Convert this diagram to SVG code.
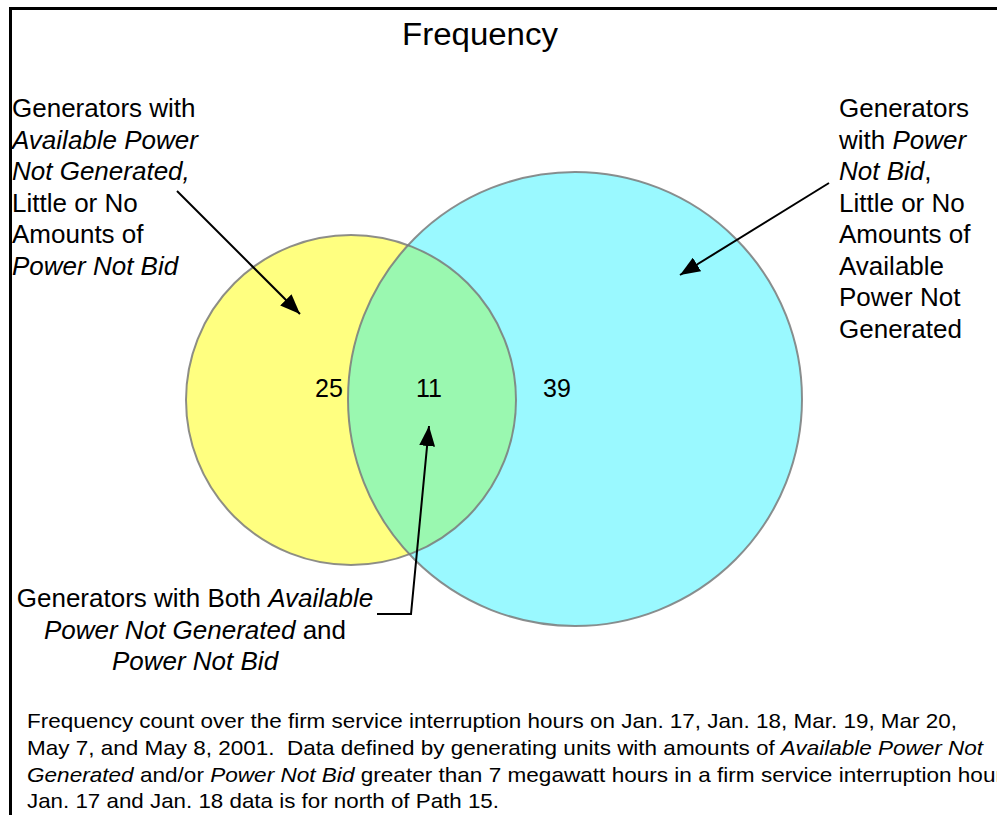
<svg xmlns="http://www.w3.org/2000/svg" width="997" height="815" viewBox="0 0 997 815">
  <style>
    text { font-family: "Liberation Sans", Arial, sans-serif; fill: #000; }
    .lbl { font-size: 26px; }
    .num { font-size: 25px; text-anchor: middle; }
    .note { font-size: 21px; }
    .it { font-style: italic; }
    .conn { fill: none; stroke: #000; stroke-width: 2; }
    .ring { fill: none; stroke: #7a7a7a; stroke-width: 2; }
  </style>
  <defs>
    <marker id="head" viewBox="0 0 20 16" refX="20" refY="8" markerWidth="20" markerHeight="16" markerUnits="userSpaceOnUse" orient="auto">
      <path d="M0,0 L20,8 L0,16 z" fill="#000"/>
    </marker>
    <clipPath id="cyanClip">
      <circle cx="575" cy="399" r="227"/>
    </clipPath>
  </defs>

  <rect width="997" height="815" fill="#fff"/>

  <!-- frame: top and left rules -->
  <path d="M10.5,815 V8.5 H997" fill="none" stroke="#000" stroke-width="3"/>

  <text x="480" y="45" font-size="31" text-anchor="middle" textLength="156" lengthAdjust="spacingAndGlyphs">Frequency</text>

  <!-- Venn sets -->
  <g id="set-available-power-not-generated">
    <circle cx="351" cy="400" r="165" fill="#ffff80"/>
  </g>
  <g id="set-power-not-bid">
    <circle cx="575" cy="399" r="227" fill="#9af9ff"/>
  </g>
  <g id="set-both">
    <circle cx="351" cy="400" r="165" fill="#9af8b0" clip-path="url(#cyanClip)"/>
  </g>
  <g id="set-outlines">
    <circle class="ring" cx="351" cy="400" r="165" stroke-opacity="0.85"/>
    <circle class="ring" cx="575" cy="399" r="227" stroke-opacity="0.85"/>
  </g>

  <g id="counts">
    <text class="num" x="329" y="397">25</text>
    <text class="num" x="429" y="397">11</text>
    <text class="num" x="557" y="397">39</text>
  </g>

  <!-- connectors -->
  <g id="connectors">
    <line class="conn" x1="177" y1="191" x2="300" y2="314" marker-end="url(#head)"/>
    <line class="conn" x1="829" y1="183" x2="680" y2="275" marker-end="url(#head)"/>
    <polyline class="conn" points="377,614 411,614 429,426" marker-end="url(#head)"/>
  </g>

  <g id="label-left">
    <text class="lbl" x="12" y="117">Generators with</text>
    <text class="lbl it" x="12" y="148.5">Available Power</text>
    <text class="lbl it" x="12" y="180">Not Generated,</text>
    <text class="lbl" x="12" y="211.5">Little or No</text>
    <text class="lbl" x="12" y="243">Amounts of</text>
    <text class="lbl it" x="12" y="274.5">Power Not Bid</text>
  </g>

  <g id="label-right">
    <text class="lbl" x="839" y="117">Generators</text>
    <text class="lbl" x="839" y="148.5">with <tspan class="it">Power</tspan></text>
    <text class="lbl" x="839" y="180"><tspan class="it">Not Bid</tspan>,</text>
    <text class="lbl" x="839" y="211.5">Little or No</text>
    <text class="lbl" x="839" y="243">Amounts of</text>
    <text class="lbl" x="839" y="274.5">Available</text>
    <text class="lbl" x="839" y="306">Power Not</text>
    <text class="lbl" x="839" y="337.5">Generated</text>
  </g>

  <g id="label-both">
    <text class="lbl" x="195" y="607" text-anchor="middle">Generators with Both <tspan class="it">Available</tspan></text>
    <text class="lbl" x="195" y="638.5" text-anchor="middle"><tspan class="it">Power Not Generated</tspan> and</text>
    <text class="lbl it" x="195" y="670" text-anchor="middle">Power Not Bid</text>
  </g>

  <g id="note">
    <text class="note" x="27" y="728" textLength="930" lengthAdjust="spacingAndGlyphs">Frequency count over the firm service interruption hours on Jan. 17, Jan. 18, Mar. 19, Mar 20,</text>
    <text class="note" x="27" y="755" textLength="956" lengthAdjust="spacingAndGlyphs">May 7, and May 8, 2001.&#160; Data defined by generating units with amounts of <tspan class="it">Available Power Not</tspan></text>
    <text class="note" x="27" y="782" textLength="976" lengthAdjust="spacingAndGlyphs"><tspan class="it">Generated</tspan> and/or <tspan class="it">Power Not Bid</tspan> greater than 7 megawatt hours in a firm service interruption hour</text>
    <text class="note" x="27" y="808" textLength="472" lengthAdjust="spacingAndGlyphs">Jan. 17 and Jan. 18 data is for north of Path 15.</text>
  </g>
</svg>
